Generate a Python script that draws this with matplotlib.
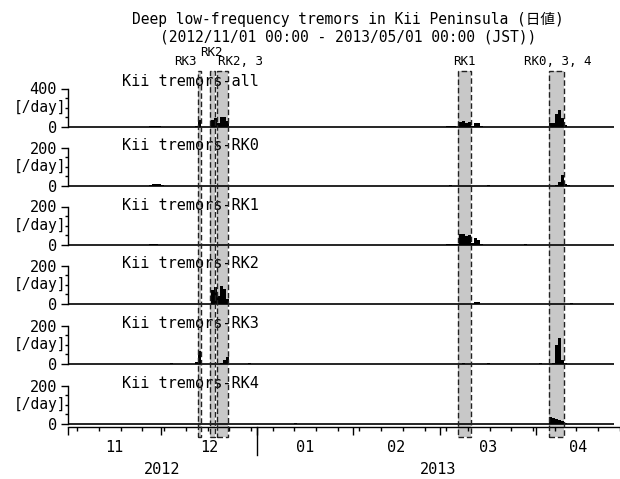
import matplotlib
matplotlib.use("Agg")
import matplotlib.pyplot as plt
import matplotlib.dates as mdates
import matplotlib.transforms as mtransforms
from matplotlib.patches import Rectangle
from matplotlib.ticker import NullFormatter, FixedLocator
import numpy as np
import pandas as pd

plt.rcParams["font.family"] = ["DejaVu Sans Mono", "Noto Sans CJK JP"]

TITLE = "Deep low-frequency tremors in Kii Peninsula (日値)"
SUBTITLE = "(2012/11/01 00:00 - 2013/05/01 00:00 (JST))"
START, END = "2012-11-01", "2013-05-01"

PANEL_NAMES = ["Kii tremors-all", "Kii tremors-RK0", "Kii tremors-RK1",
               "Kii tremors-RK2", "Kii tremors-RK3", "Kii tremors-RK4"]
PANEL_YMAX = [400, 200, 200, 200, 200, 200]

# daily counts (only non-zero days listed)
ALL_DATES = ["2012-11-23", "2012-11-27", "2012-11-28", "2012-11-29", "2012-11-30",
             "2012-12-01", "2012-12-12", "2012-12-13", "2012-12-17", "2012-12-18",
             "2012-12-19", "2012-12-20", "2012-12-21", "2012-12-22", "2012-12-29",
             "2013-01-13", "2013-02-09", "2013-02-24", "2013-03-03", "2013-03-04",
             "2013-03-05", "2013-03-06", "2013-03-07", "2013-03-08", "2013-03-09",
             "2013-03-10", "2013-03-11", "2013-03-12", "2013-03-13", "2013-03-14",
             "2013-03-16", "2013-03-28", "2013-04-05", "2013-04-06", "2013-04-07",
             "2013-04-08", "2013-04-09", "2013-04-10", "2013-04-11", "2013-04-25"]
ALL_COUNTS = [2, 10, 14, 14, 10,
              4, 8, 72, 76, 92,
              42, 100, 102, 62, 4,
              3, 2, 2, 6, 9,
              6, 3, 56, 61, 45,
              50, 10, 46, 37, 6,
              4, 3, 38, 37, 133,
              177, 89, 21, 5, 2]

RK0_DATES = ["2012-11-27", "2012-11-28", "2012-11-29", "2012-11-30", "2012-12-01",
             "2013-03-04", "2013-03-14", "2013-03-16", "2013-04-07", "2013-04-08",
             "2013-04-09", "2013-04-10", "2013-04-11"]
RK0_COUNTS = [6, 10, 10, 8, 4, 3, 2, 3, 5, 20, 55, 12, 3]

RK1_DATES = ["2012-11-23", "2012-11-27", "2012-11-28", "2012-11-29", "2012-11-30",
             "2013-03-03", "2013-03-04", "2013-03-05", "2013-03-06", "2013-03-07",
             "2013-03-08", "2013-03-09", "2013-03-10", "2013-03-11", "2013-03-12",
             "2013-03-13", "2013-03-14", "2013-03-28"]
RK1_COUNTS = [2, 3, 4, 4, 2, 4, 6, 6, 3, 55, 58, 45, 50, 10, 35, 28, 5, 3]

RK2_DATES = ["2012-12-17", "2012-12-18", "2012-12-19", "2012-12-20", "2012-12-21",
             "2012-12-22", "2012-12-27", "2013-03-12", "2013-03-13", "2013-04-02",
             "2013-04-06", "2013-04-12"]
RK2_COUNTS = [75, 90, 40, 95, 80, 25, 2, 10, 8, 2, 2, 3]

RK3_DATES = ["2012-12-04", "2012-12-12", "2012-12-13", "2012-12-20", "2012-12-21",
             "2012-12-22", "2012-12-29", "2013-03-08", "2013-03-16", "2013-04-02",
             "2013-04-06", "2013-04-07", "2013-04-08", "2013-04-09", "2013-04-10"]
RK3_COUNTS = [3, 8, 70, 5, 20, 35, 4, 3, 3, 3, 5, 100, 135, 20, 3]

RK4_DATES = ["2012-11-23", "2013-01-13", "2013-02-09", "2013-02-15", "2013-02-24",
             "2013-03-01", "2013-04-05", "2013-04-06", "2013-04-07", "2013-04-08",
             "2013-04-09", "2013-04-10", "2013-04-11", "2013-04-25"]
RK4_COUNTS = [2, 3, 2, 2, 2, 2, 38, 32, 28, 22, 14, 6, 2, 2]

SPAN_LABELS = ["RK3", "RK2", "RK2, 3", "RK1", "RK0, 3, 4"]
SPAN_START = ["2012-12-13 00:00", "2012-12-16 18:00", "2012-12-19 02:00",
              "2013-03-06 22:00", "2013-04-05 00:00"]
SPAN_END = ["2012-12-14 00:00", "2012-12-18 12:00", "2012-12-22 16:00",
            "2013-03-11 02:00", "2013-04-10 00:00"]

# ---- layout (pixels in a 620x479 canvas) ----
W, H = 620, 479
LEFT_PX, PX_PER_DAY = 68, 3.1
PANEL_ZERO_PX = [127, 186, 245, 304, 364, 424]
PANEL_TOP_PX = [71, 127, 186, 245, 304, 364]
PANEL_NAME_PX = [82, 146, 205, 264, 324, 383]
YMAX_PX = 38.5
SPAN_TOP_PX, SPAN_BOT_PX = 71, 437
DATE_AXIS_PX = 427
LABEL_OFFSET_PX = [(-14, 0), (-1, 9), (18, 0), (0, 0), (2, 0)]
GRAY = "#c8c8c8"


def fx(px):
    return px / W


def fy(py):
    return 1 - py / H


t0, t1 = pd.Timestamp(START), pd.Timestamp(END)
xlim = (mdates.date2num(t0), mdates.date2num(t1))
width_px = (t1 - t0).days * PX_PER_DAY

fig = plt.figure(figsize=(W / 100, H / 100), dpi=100)
fig.patch.set_facecolor("white")

# gray spans behind everything
ax_bg = fig.add_axes([fx(LEFT_PX), fy(SPAN_BOT_PX), width_px / W,
                      (SPAN_BOT_PX - SPAN_TOP_PX) / H], zorder=0)
ax_bg.set_xlim(xlim)
ax_bg.set_ylim(0, 1)
ax_bg.axis("off")
# dashed outlines and labels on top
ax_fg = fig.add_axes(ax_bg.get_position().bounds, zorder=3)
ax_fg.set_xlim(xlim)
ax_fg.set_ylim(0, 1)
ax_fg.axis("off")
ax_fg.patch.set_alpha(0)

for lab, s, e, (dx, dy) in zip(SPAN_LABELS, SPAN_START, SPAN_END, LABEL_OFFSET_PX):
    x0 = mdates.date2num(pd.Timestamp(s))
    x1 = mdates.date2num(pd.Timestamp(e))
    ax_bg.add_patch(Rectangle((x0, 0), x1 - x0, 1, facecolor=GRAY,
                              edgecolor="none"))
    ax_fg.add_patch(Rectangle((x0, 0), x1 - x0, 1, fill=False,
                              edgecolor="#222222", linewidth=1.0,
                              linestyle=(0, (4, 2)), clip_on=False))
    ax_fg.annotate(lab, xy=((x0 + x1) / 2, 1), xytext=(dx * 0.72, 2 + dy * 0.72),
                   textcoords="offset points", ha="center", va="bottom",
                   fontsize=9, annotation_clip=False)

panels = [(ALL_DATES, ALL_COUNTS), (RK0_DATES, RK0_COUNTS), (RK1_DATES, RK1_COUNTS),
          (RK2_DATES, RK2_COUNTS), (RK3_DATES, RK3_COUNTS), (RK4_DATES, RK4_COUNTS)]
last_day = pd.to_datetime(ALL_DATES).max() + pd.Timedelta(days=1)

for i, (dates, counts) in enumerate(panels):
    top, zero = PANEL_TOP_PX[i], PANEL_ZERO_PX[i]
    ymax = PANEL_YMAX[i]
    ax = fig.add_axes([fx(LEFT_PX), fy(zero), width_px / W, (zero - top) / H],
                      zorder=1)
    ax.patch.set_alpha(0)
    ax.bar(pd.to_datetime(dates), counts, width=1.0, align="edge",
           color="black", linewidth=0)
    ax.hlines(0, t0, last_day, color="black", linewidth=1.2, clip_on=False,
              zorder=3)
    ax.set_xlim(xlim)
    ax.set_ylim(0, ymax * (zero - top) / YMAX_PX)
    for side in ("top", "right", "bottom"):
        ax.spines[side].set_visible(False)
    ax.spines["left"].set_bounds(0, ymax)
    ax.spines["left"].set_linewidth(1.0)
    ax.set_xticks([])
    ax.yaxis.set_major_locator(FixedLocator([0, ymax]))
    ax.yaxis.set_minor_locator(FixedLocator(np.linspace(0, ymax, 5)[1:-1]))
    ax.tick_params(axis="y", which="major", length=5, width=1, pad=3,
                   labelsize=11)
    ax.tick_params(axis="y", which="minor", length=2.5, width=1)
    ax.text(-0.004, ymax / 2, "[/day]", transform=mtransforms.blended_transform_factory(
        ax.transAxes, ax.transData), ha="right", va="center", fontsize=10.5)
    fig.text(fx(122), fy(PANEL_NAME_PX[i]), PANEL_NAMES[i], ha="left",
             va="center", fontsize=11, zorder=2)

# date axis below the last panel
ax_d = fig.add_axes([fx(LEFT_PX), fy(DATE_AXIS_PX), width_px / W, 0.0001],
                    zorder=1)
ax_d.patch.set_alpha(0)
for side in ("top", "right", "left"):
    ax_d.spines[side].set_visible(False)
ax_d.spines["bottom"].set_linewidth(1.0)
ax_d.set_yticks([])
ax_d.set_xlim(xlim)
ax_d.xaxis.set_major_locator(mdates.MonthLocator())
ax_d.xaxis.set_minor_locator(mdates.WeekdayLocator(byweekday=mdates.SU))
ax_d.xaxis.set_major_formatter(NullFormatter())
ax_d.tick_params(axis="x", which="major", length=5.5, width=1)
ax_d.tick_params(axis="x", which="minor", length=3, width=1)

bt = mtransforms.blended_transform_factory(ax_d.transData, fig.transFigure)
months = pd.date_range(t0, t1, freq="MS")
vis_end = t0 + pd.Timedelta(days=(W - LEFT_PX) / PX_PER_DAY)
for m0, m1 in zip(months[:-1], months[1:]):
    mid = m0 + (min(m1, vis_end) - m0) / 2
    ax_d.text(mdates.date2num(mid), fy(447), m0.strftime("%m"), transform=bt,
              ha="center", va="center", fontsize=11)
years = [t0, pd.Timestamp("2013-01-01")]
for y0, y1 in zip(years, years[1:] + [vis_end]):
    mid = y0 + (y1 - y0) / 2
    ax_d.text(mdates.date2num(mid), fy(469), y0.strftime("%Y"), transform=bt,
              ha="center", va="center", fontsize=11)
ynum = mdates.date2num(years[1])
ax_d.plot([ynum, ynum], [fy(DATE_AXIS_PX), fy(455)], color="black",
          linewidth=1.0, transform=bt, clip_on=False)

fig.text(fx(348), fy(19), TITLE, ha="center", va="center", fontsize=10.5)
fig.text(fx(348), fy(37), SUBTITLE, ha="center", va="center", fontsize=10.5)

fig.savefig("out.png", dpi=100)
